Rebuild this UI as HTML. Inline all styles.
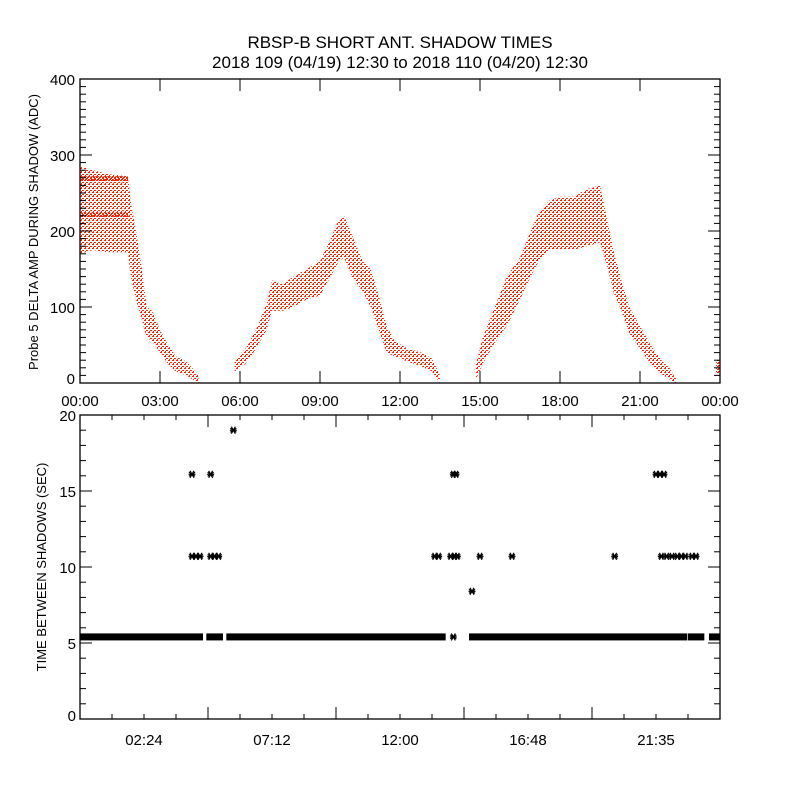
<!DOCTYPE html>
<html><head><meta charset="utf-8"><style>
body{margin:0;background:#fff}
svg text{font-family:"Liberation Sans",sans-serif;fill:#000}
</style></head><body>
<svg id="c" width="800" height="800" xmlns="http://www.w3.org/2000/svg">
<defs>
<pattern id="dots" width="4" height="4" patternUnits="userSpaceOnUse">
<rect x="0" y="0" width="2" height="1" fill="#ff2200"/>
<rect x="2" y="2" width="2" height="1" fill="#ff2200"/>
<rect x="1" y="3" width="1" height="1" fill="#ff2200"/>
</pattern>
<pattern id="dotsDense" width="3" height="3" patternUnits="userSpaceOnUse">
<rect x="0" y="0" width="2" height="1" fill="#ff2200"/>
<rect x="1" y="2" width="2" height="1" fill="#ff2200"/>
</pattern>
<clipPath id="botClip"><rect x="80" y="415" width="640" height="304"/></clipPath>
</defs>
<text x="400" y="48" font-size="17" text-anchor="middle">RBSP-B SHORT ANT. SHADOW TIMES</text>
<text x="400" y="68" font-size="17" text-anchor="middle">2018 109 (04/19) 12:30 to 2018 110 (04/20) 12:30</text>
<text transform="translate(38,232) rotate(-90)" font-size="13" text-anchor="middle">Probe 5 DELTA AMP DURING SHADOW (ADC)</text>
<text transform="translate(46,567) rotate(-90)" font-size="13" text-anchor="middle">TIME BETWEEN SHADOWS (SEC)</text>
<g id="topPanel"></g>
<g id="botPanel"></g>
</svg>
<script>
// Top panel: amplitude envelope (hours, low, high)
const ampHours=[0,0.5,1.0,1.8,1.9,2.1,2.3,2.5,2.7,3.0,3.3,3.6,4.0,4.2,4.45,5.8,6.2,6.6,7.0,7.2,7.6,8.0,8.5,9.0,9.4,9.7,9.9,10.2,10.6,10.9,11.2,11.5,11.8,12.3,12.8,13.2,13.5,14.85,15.1,15.5,16.0,16.5,16.9,17.2,17.6,18.0,18.5,19.0,19.5,19.8,20.0,20.3,20.6,21.0,21.4,21.8,22.1,22.35];
const ampLow =[170,175,172,172,140,110,85,60,55,40,25,15,10,5,0,15,25,45,70,95,95,100,110,115,140,160,165,140,120,100,70,40,35,28,22,15,0,5,25,50,75,110,140,160,175,175,175,180,185,150,120,95,65,45,25,12,5,0];
const ampHigh=[285,280,275,272,240,200,155,100,95,70,50,35,28,20,10,30,45,70,105,135,130,140,150,160,190,215,220,195,160,150,115,75,55,45,40,32,10,25,60,95,140,165,200,225,240,245,245,255,260,210,175,135,100,75,50,30,20,6];
const ampDenseVal=[[0,1.8,220],[0,1.8,268]];
const endHours=[23.85,24],endLow=[12,12],endHigh=[30,30];
// Bottom panel: time between shadows
const baseVal=5.4;
const segStart=[0,4.85,5.6,14.7,22.9,23.7];
const segEnd=[4.5,5.25,13.6,22.65,23.3,24];
const ptHours=[4.2,4.35,4.5,4.9,5.05,5.2,13.3,13.45,13.9,14.05,14.15,15.0,16.2,20.05,21.8,22.0,22.2,22.4,22.55,22.7,22.95,23.1,4.2,4.9,14.0,14.1,21.6,21.75,21.9,5.75,14.7,14.0];
const ptVals=[10.7,10.7,10.7,10.7,10.7,10.7,10.7,10.7,10.7,10.7,10.7,10.7,10.7,10.7,10.7,10.7,10.7,10.7,10.7,10.7,10.7,10.7,16.1,16.1,16.1,16.1,16.1,16.1,16.1,19.0,8.4,5.4];

const NS="http://www.w3.org/2000/svg";
function mk(p,t,a){const e=document.createElementNS(NS,t);for(const k in a)e.setAttribute(k,a[k]);p.appendChild(e);return e;}
const X0=80,X1=720;
const xH=h=>X0+(X1-X0)*h/24;
const yTop=v=>383-0.76*v;
const yBot=v=>719-15.2*v;
const gTop=document.getElementById('topPanel'),gBot=document.getElementById('botPanel');

let start=0;
for(let i=1;i<=ampHours.length;i++){
 if(i===ampHours.length||ampHours[i]-ampHours[i-1]>1){
  const p=[];
  for(let j=start;j<i;j++)p.push(xH(ampHours[j])+','+yTop(ampHigh[j]));
  for(let j=i-1;j>=start;j--)p.push(xH(ampHours[j])+','+yTop(ampLow[j]));
  const band=mk(gTop,'polygon',{points:p.join(' '),fill:'url(#dots)'});
  
  
  start=i;
 }
}
ampDenseVal.forEach(d=>{
 const r=mk(gTop,'rect',{x:xH(d[0]),y:yTop(d[2])-3,width:xH(d[1])-xH(d[0]),height:5,fill:'url(#dotsDense)'});
 
 
});
{const r=mk(gTop,'rect',{x:xH(endHours[0]),y:yTop(endHigh[0]),width:xH(endHours[1])-xH(endHours[0]),height:yTop(endLow[0])-yTop(endHigh[0]),fill:'url(#dotsDense)'});

}

const tf=mk(gTop,'rect',{x:X0,y:79,width:X1-X0,height:304,fill:'none',stroke:'#000','stroke-width':1.3});


for(let v=0;v<=400;v+=10){
 const len=v%100===0?12:6,y=yTop(v);
 mk(gTop,'line',{x1:X0,x2:X0+len,y1:y,y2:y,stroke:'#000'});
 mk(gTop,'line',{x1:X1,x2:X1-len,y1:y,y2:y,stroke:'#000'});
 if(v%100===0){const t=mk(gTop,'text',{x:75,y:Math.min(y+6,384),'font-size':15,'text-anchor':'end'});t.textContent=v;
  
  }
}
const topXLabels=['00:00','03:00','06:00','09:00','12:00','15:00','18:00','21:00','00:00'];
topXLabels.forEach((l,i)=>{
 const x=xH(i*3);
 mk(gTop,'line',{x1:x,x2:x,y1:383,y2:371,stroke:'#000'});
 mk(gTop,'line',{x1:x,x2:x,y1:79,y2:91,stroke:'#000'});
 const t=mk(gTop,'text',{x:x,y:406,'font-size':15,'text-anchor':'middle'});t.textContent=l;
 
 
});

const gClip=mk(gBot,'g',{'clip-path':'url(#botClip)'});
function star(x,y){
 const g=mk(gClip,'g',{stroke:'#000','stroke-width':1.2});
 mk(g,'line',{x1:x-3.5,x2:x+3.5,y1:y,y2:y});
 mk(g,'line',{x1:x-2,x2:x+2,y1:y-3.5,y2:y+3.5});
 mk(g,'line',{x1:x+2,x2:x-2,y1:y-3.5,y2:y+3.5});
 mk(g,'line',{x1:x-3,x2:x+3,y1:y-2,y2:y+2});
 mk(g,'line',{x1:x+3,x2:x-3,y1:y-2,y2:y+2});
 return g;
}
segStart.forEach((s,i)=>{
 const x1=xH(s),x2=xH(segEnd[i]),y=yBot(baseVal);
 const r=mk(gClip,'rect',{x:x1-3,y:y-3.5,width:x2-x1+6,height:7,fill:'#000'});
 
 
});
ptHours.forEach((h,i)=>{
 const g=star(xH(h),yBot(ptVals[i]));
 
 
});
const bf=mk(gBot,'rect',{x:X0,y:415,width:X1-X0,height:304,fill:'none',stroke:'#000','stroke-width':1.3});


for(let v=0;v<=20;v++){
 const len=v%5===0?12:6,y=yBot(v);
 mk(gBot,'line',{x1:X0,x2:X0+len,y1:y,y2:y,stroke:'#000'});
 mk(gBot,'line',{x1:X1,x2:X1-len,y1:y,y2:y,stroke:'#000'});
 if(v%5===0){const t=mk(gBot,'text',{x:76,y:Math.min(y+6,721),'font-size':15,'text-anchor':'end'});t.textContent=v;
  
  }
}
const botXLabels=['02:24','07:12','12:00','16:48','21:35'];
for(let k=1;k<=20;k++){
 const x=xH(k*1.2),len=k%4===0?12:5;
 mk(gBot,'line',{x1:x,x2:x,y1:719,y2:719-len,stroke:'#000'});
 mk(gBot,'line',{x1:x,x2:x,y1:415,y2:415+len,stroke:'#000'});
}
botXLabels.forEach((l,i)=>{
 const t=mk(gBot,'text',{x:xH((i+0.5)*4.8),y:745,'font-size':15,'text-anchor':'middle'});t.textContent=l;
 
 
});
</script>
</body></html>
